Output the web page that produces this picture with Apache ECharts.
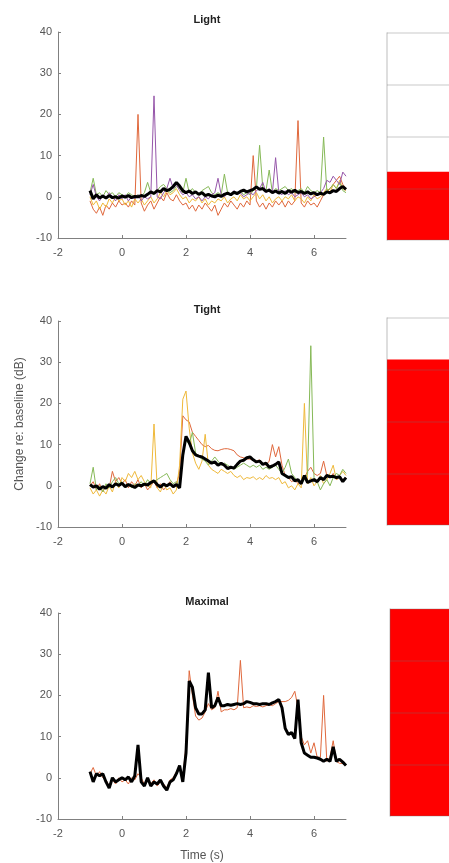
<!DOCTYPE html>
<html>
<head>
<meta charset="utf-8">
<script src="https://cdn.jsdelivr.net/npm/echarts@6/dist/echarts.min.js"></script>
<style>
  html, body { margin: 0; padding: 0; background: #fff; }
  #chart { width: 449px; height: 863px; }
</style>
</head>
<body>
<div id="chart"></div>
<script>
// time samples (s)
const time = [-1.0,-0.9,-0.8,-0.7,-0.6,-0.5,-0.4,-0.3,-0.2,-0.1,
  0.0,0.1,0.2,0.3,0.4,0.5,0.6,0.7,0.8,0.9,
  1.0,1.1,1.2,1.3,1.4,1.5,1.6,1.7,1.8,1.9,
  2.0,2.1,2.2,2.3,2.4,2.5,2.6,2.7,2.8,2.9,
  3.0,3.1,3.2,3.3,3.4,3.5,3.6,3.7,3.8,3.9,
  4.0,4.1,4.2,4.3,4.4,4.5,4.6,4.7,4.8,4.9,
  5.0,5.1,5.2,5.3,5.4,5.5,5.6,5.7,5.8,5.9,
  6.0,6.1,6.2,6.3,6.4,6.5,6.6,6.7,6.8,6.9,7.0];

const panelTitles = ["Light", "Tight", "Maximal"];
const xTicks = [-2, 0, 2, 4, 6];
const yTicks = [-10, 0, 10, 20, 30, 40];

// Light
const lightOrange = [-1,-3,-4,-2.5,-4.5,-2,-3,-1.5,-2.5,-1,
  -2,-1.5,-2.5,-1,-2,20,-1.5,-3.5,-2,-1,
  -3,-1.5,0,-1,1,-0.5,-1,0.5,-1,-2,
  -1.5,-3,-2,-3.5,-2,-3,-1.5,-2.5,-3.5,-2,
  -4.5,-3,-1.5,-2.5,-1,-2,-3,-1.5,-2.5,-1,
  -2,10,-1,-2.5,-1.5,-3,-1.5,-2.5,-1,-2,
  -1,-2.5,-1,-2,-1,18.5,-1.5,-2.5,-1,-2,
  -1.5,-2.5,-1,0.5,1,2,3,4,5,3,2];
const lightYellow = [0,-2,-1,-3,-1.5,-2.5,-0.5,-1.5,0,-1,
  -0.5,-2,-1,-2.5,-0.5,-1.5,-0.5,-2,-1,0,
  -1.5,-0.5,1,0,1.5,0.5,1,2,0.5,-0.5,
  0,-1.5,-0.5,-1,0,-1.5,-0.5,-2,-1,-1.5,
  -0.5,-1,0,-1.5,-0.5,0,-1,0.5,-0.5,0,
  -1,0,1,-0.5,0.5,-1,0,-1.5,-0.5,0,
  -1,0,-0.5,0.5,-1,0,-0.5,-1.5,0,-1,
  0.5,-0.5,0,1,2,1,3,2,4,2,1.5];
const lightPurple = [0.5,3,0,-1,0.5,-0.5,1,0,-1,0.5,
  -0.5,0.5,-1,0,-0.5,0.5,-1,0,-0.5,0,
  24.5,0,-0.5,1,2,4.5,2,3,1.5,0.5,
  1,0,0.5,-0.5,0,-1,0,-0.5,0.5,1,
  4.5,0.5,0,1,0.5,1.5,0.5,1,0,0.5,
  1,0.5,1.5,2,3.5,1,2,1,9.5,1,
  0.5,1.5,0.5,1,0,0.5,1,0,0.5,-0.5,
  0,0.5,1,2,4,3.5,5,4,3,6,5];
const lightGreen = [1,4.5,0.5,1,0,1.5,0.5,1,0,1,
  0.5,0,1,0.5,0,0.5,0,1,3.5,1,
  0.5,1.5,2.5,3,2,1,1.5,2.5,2,1,
  4.5,1,2,1,0.5,1.5,2,2.5,1,0.5,
  1,0.5,5.5,1,0.5,1,0.5,1.5,0.5,1,
  0.5,1.5,2,12.5,2,1.5,6.5,1,2,1.5,
  2,2.5,1.5,2,1,1.5,2,1,2.5,1.5,
  1,1.5,1,14.5,1.5,2,3,2,3.5,1.5,1];
const lightMean = [1.5,-0.5,0.5,-0.3,0.2,-0.3,0.3,-0.2,0,-0.3,
  0.2,-0.1,0.3,-0.2,0.1,0,0.3,0.1,0.6,1.2,
  0.8,1.5,1.2,2,1.5,1.8,2.5,3.5,2.6,1.5,
  1,1.4,0.8,1.2,0.6,1,0.3,0.6,0.2,0,
  0.4,0.1,0.6,0.9,0.5,1.1,0.8,1.3,1.6,1.2,
  1.5,1.8,2.4,1.8,2,1.3,1.6,1,1.4,0.9,
  1.3,0.8,1.5,1.1,1.6,1,1.3,0.8,1.2,0.7,
  1,0.5,0.9,0.6,1.2,1,1.5,1.3,2,2.5,1.8];

// Tight
const tightOrange = [0,1,-1,0.5,-1.5,0,-0.5,3.5,1,2,
  0.5,1.5,-0.5,1,0,1.5,-0.5,0.5,-1,0,
  1,-0.5,0.5,-1,0,1,-0.5,0.5,3,17,
  16,15.5,13,12,11,10,9.5,9.8,9,8.6,
  8.5,8.8,9,9,8.8,8.5,7.5,7,6.8,6.5,
  6.5,6.2,6,6.3,5.5,5,6,10,7,9.5,
  5,2.5,2,1,1.5,0.5,1,2,3.5,4.5,
  3,2.5,3,6,2.5,2,3,1.5,2,1.5,2];
const tightYellow = [-0.5,-2,-1,-2.5,-1,-2,0,-1.5,1,-0.5,
  2,1,3,2,3.5,1.5,2.5,1,0,-0.5,
  15,-0.5,-1.5,0.5,-1,-0.5,-2,-1,5,21,
  23,14,8,5.5,4,6,12.5,5,4,3.5,
  3,4,3.5,3,3.5,2.5,2,2.5,1.5,2,
  1.8,2.2,1.5,2,1.5,2.5,1.8,2,1.5,2,
  0.5,1,-0.5,0,-1,0.5,-0.5,20,0.5,2,
  0,1,2.5,0.5,1.5,3,5,1.5,2.5,3.5,2.5];
const tightGreen = [0.5,4.5,-1,0,-1.5,0.5,-0.5,1,2,0.5,
  1,0,0.5,-0.5,0.5,0,1,0,1.5,0.5,
  1,1.5,2,2.5,3,1.5,0.5,1,0,8,
  11,10,13,8,7,6.5,6,5,6,7,
  6,5,5.5,5,4.5,4,4.5,5,5.5,5,
  4.5,5,4.5,5,4,4.5,4,4.5,5,4,
  3,4.5,6.5,3,2,1,0.5,1.5,3,34,
  2,1,-1,0.5,1.5,0,2,3,2.5,4,3];
const tightMean = [0.3,-0.3,0,-0.8,-0.2,-0.6,0.3,-0.3,0.5,0.1,
  0.6,-0.2,0.3,0,-0.4,0.2,0,0.4,0.2,0.8,
  1.2,0.3,-0.3,0.4,0,0.5,-0.2,0.3,-0.5,7.5,
  12,10.5,8.5,7.5,7.2,7,6.5,6,5.5,5.8,
  5,5.5,5,4.2,4.5,4.3,5.2,6,6.2,6.8,
  7,6.3,5.8,6,5.2,5.5,4.5,4.8,5.2,5.8,
  3,2.5,2,2.2,1.2,1.5,0.5,2.5,0.8,1.2,
  1.5,1,2,1.5,2.5,2.2,2.3,2,2.2,1,2];

// Maximal
const maxOrange = [1,2.5,0.5,1.5,0,-0.5,-2,-0.5,-1.5,0,
  -1,-0.5,-1.5,0,-0.5,1,0,-1.5,-0.5,-1.5,
  -0.5,-2,-1,-1.5,-2.5,-0.5,0,1.5,2,0,
  8,26,20,15,14,14.5,16,18,16.5,17,
  21,16,16.5,16.5,16.8,16.5,17,28.5,17,17.2,
  17,17.5,17.3,17.5,17.2,17.5,17.8,17.5,18,18.5,
  18.5,18.5,18.8,19.5,21,17,10,8,9,6,
  8.5,5,5,20,4,5,9,4,3.5,3.5,3];
const maxMean = [1.5,-1,1,0.5,1,-1,-2.5,0,-1,-0.5,
  0,-0.5,0.2,-1,0.5,8,-1,-2,0,-2,
  -1,-1.5,-0.5,-2,-3,-1,-0.5,1,3,-1,
  6,23.5,22,17,15.5,15.5,16.5,25.5,17,17.5,
  19.5,17.5,17.5,17.8,17.6,17.8,18,17.8,18,18.5,
  18.3,18,18,17.8,18,18,17.8,18.2,18.5,19,
  17,12,10.5,11,9.5,19,8.5,6,5.5,5,
  5,4.8,4.5,4,4.5,4,7.5,4,4.5,3.8,3];

// right-hand bars (% filled)
const barValues = [33, 80, 100];

const C_ORANGE = "#e0683c";
const C_YELLOW = "#efb93a";
const C_PURPLE = "#9656aa";
const C_GREEN = "#86b957";

const pairs = (vals) => time.map((t, i) => [t, vals[i]]);

const panelTops = [32, 321, 613];
const rightTops = [33, 318, 609];

const grids = [];
const xAxes = [];
const yAxes = [];
panelTops.forEach((top) => {
  grids.push({ left: 58, top: top, width: 288, height: 206 });
});
rightTops.forEach((top, i) => {
  grids.push({ left: i === 2 ? 390 : 387, top: top, width: 100, height: 207 });
});

const axisGray = "#808080";
const labelGray = "#555";

for (let i = 0; i < 3; i++) {
  xAxes.push({
    gridIndex: i,
    type: "value",
    min: -2,
    max: 7,
    interval: 2,
    axisLine: { show: true, onZero: false, lineStyle: { color: axisGray, width: 1 } },
    axisTick: { show: true, inside: true, length: 3, lineStyle: { color: axisGray } },
    axisLabel: {
      color: labelGray,
      fontSize: 11,
      fontFamily: "Liberation Sans",
      margin: 9,
      showMaxLabel: false,
      formatter: (v) => (xTicks.includes(v) ? String(v) : ""),
    },
    splitLine: { show: false },
    name: i === 2 ? "Time (s)" : "",
    nameLocation: "middle",
    nameGap: 31,
    nameTextStyle: { color: labelGray, fontSize: 12, fontFamily: "Liberation Sans" },
  });
  yAxes.push({
    gridIndex: i,
    type: "value",
    min: yTicks[0],
    max: yTicks[yTicks.length - 1],
    interval: 10,
    axisLine: { show: true, onZero: false, lineStyle: { color: axisGray, width: 1 } },
    axisTick: { show: true, inside: true, length: 3, lineStyle: { color: axisGray } },
    axisLabel: { color: labelGray, fontSize: 11, fontFamily: "Liberation Sans", margin: 6 },
    splitLine: { show: false },
    name: i === 1 ? "Change re: baseline (dB)" : "",
    nameLocation: "middle",
    nameGap: 31,
    nameTextStyle: { color: labelGray, fontSize: 12, fontFamily: "Liberation Sans" },
  });
}
for (let i = 0; i < 3; i++) {
  xAxes.push({
    gridIndex: 3 + i,
    type: "category",
    data: ["fill"],
    show: false,
  });
  yAxes.push({
    gridIndex: 3 + i,
    type: "value",
    min: 0,
    max: 100,
    interval: 25,
    z: 5,
    axisLine: { show: true, onZero: false, lineStyle: { color: "rgba(110,110,110,0.3)", width: 1.5 } },
    axisTick: { show: false },
    axisLabel: { show: false },
    splitLine: { show: true, lineStyle: { color: "rgba(110,110,110,0.25)", width: 1.5 } },
  });
}

function line(idx, vals, color, width) {
  return {
    type: "line",
    xAxisIndex: idx,
    yAxisIndex: idx,
    data: pairs(vals),
    showSymbol: false,
    symbol: "none",
    lineStyle: { color: color, width: width },
    z: width > 2 ? 4 : 2,
    animation: false,
  };
}

const series = [
  line(0, lightOrange, C_ORANGE, 1),
  line(0, lightYellow, C_YELLOW, 1),
  line(0, lightGreen, C_GREEN, 1),
  line(0, lightPurple, C_PURPLE, 1),
  line(0, lightMean, "#000", 3),
  line(1, tightOrange, C_ORANGE, 1),
  line(1, tightYellow, C_YELLOW, 1),
  line(1, tightGreen, C_GREEN, 1),
  line(1, tightMean, "#000", 3),
  line(2, maxOrange, C_ORANGE, 1),
  line(2, maxMean, "#000", 3),
];
barValues.forEach((v, i) => {
  series.push({
    type: "bar",
    xAxisIndex: 3 + i,
    yAxisIndex: 3 + i,
    data: [v],
    barWidth: "100%",
    itemStyle: { color: "#ff0000" },
    z: 2,
    animation: false,
  });
});

const titles = panelTitles.map((t, i) => ({
  text: t,
  left: 202,
  top: [9, 299, 591][i],
  textAlign: "center",
  textStyle: { fontSize: 11, fontWeight: "bold", color: "#222", fontFamily: "Liberation Sans" },
}));

const chart = echarts.init(document.getElementById("chart"));
chart.setOption({
  backgroundColor: "#fff",
  animation: false,
  title: titles,
  grid: grids,
  xAxis: xAxes,
  yAxis: yAxes,
  series: series,
});
</script>
</body>
</html>
